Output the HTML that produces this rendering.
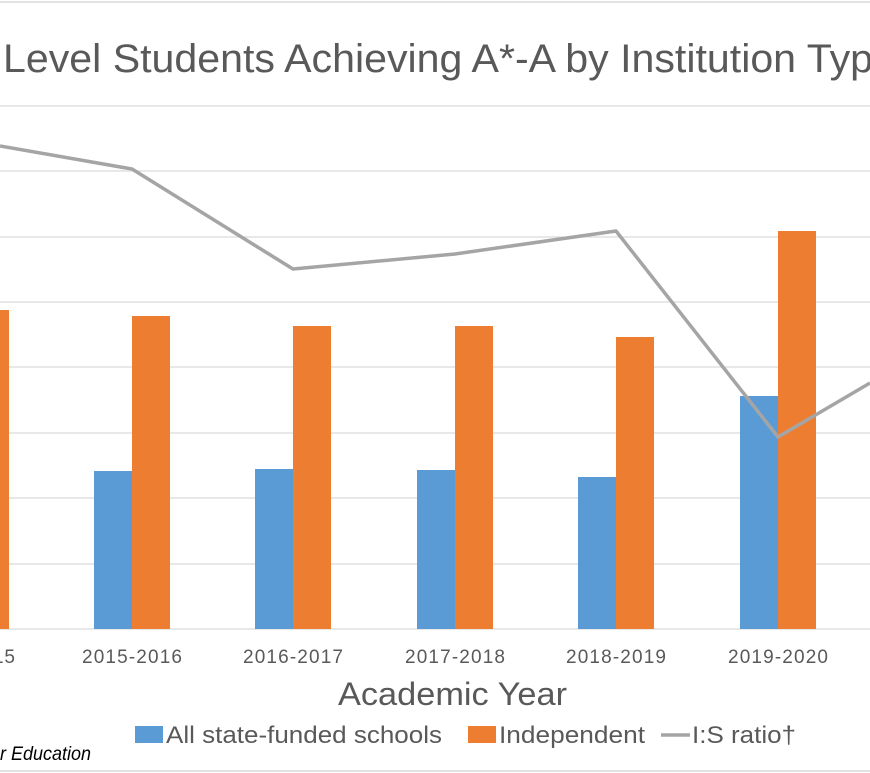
<!DOCTYPE html>
<html><head><meta charset="utf-8"><style>
html,body{margin:0;padding:0;background:#fff;}
svg{display:block;font-family:"Liberation Sans",sans-serif;}
</style></head><body>
<svg width="870" height="773" viewBox="0 0 870 773" xmlns="http://www.w3.org/2000/svg">
<rect width="870" height="773" fill="#fff"/>
<line x1="0" y1="2" x2="870" y2="2" stroke="#d9d9d9" stroke-width="1.5"/>
<text x="3" y="72" font-size="40" fill="#595959" textLength="870" lengthAdjust="spacingAndGlyphs">Level Students Achieving A*-A by Institution Typ</text>
<g stroke="#d9d9d9" stroke-width="1.3">
<line x1="0" y1="106" x2="870" y2="106"/>
<line x1="0" y1="171" x2="870" y2="171"/>
<line x1="0" y1="237" x2="870" y2="237"/>
<line x1="0" y1="302" x2="870" y2="302"/>
<line x1="0" y1="367" x2="870" y2="367"/>
<line x1="0" y1="433" x2="870" y2="433"/>
<line x1="0" y1="498" x2="870" y2="498"/>
<line x1="0" y1="564" x2="870" y2="564"/>
<line x1="0" y1="629" x2="870" y2="629"/>
</g>
<g fill="#5b9bd5">
<rect x="94" y="471" width="38" height="158"/>
<rect x="255" y="469" width="38" height="160"/>
<rect x="417" y="470" width="38" height="159"/>
<rect x="578" y="477" width="38" height="152"/>
<rect x="740" y="396" width="38" height="233"/>
</g>
<g fill="#ed7d31">
<rect x="0" y="310" width="9" height="319"/>
<rect x="132" y="316" width="38" height="313"/>
<rect x="293" y="326" width="38" height="303"/>
<rect x="455" y="326" width="38" height="303"/>
<rect x="616" y="337" width="38" height="292"/>
<rect x="778" y="231" width="38" height="398"/>
</g>
<polyline points="0,146 132,169 293,269 455,254 616,231 778,437 870,383" fill="none" stroke="#a5a5a5" stroke-width="3.5" stroke-linejoin="round"/>
<g font-size="19" fill="#595959" text-anchor="middle" lengthAdjust="spacingAndGlyphs">
<text x="4" y="663" textLength="22">15</text>
<text x="132" y="663" textLength="100">2015-2016</text>
<text x="293" y="663" textLength="100">2016-2017</text>
<text x="455" y="663" textLength="100">2017-2018</text>
<text x="616" y="663" textLength="100">2018-2019</text>
<text x="778" y="663" textLength="100">2019-2020</text>
</g>
<text x="338" y="705" font-size="32" fill="#595959" textLength="229" lengthAdjust="spacingAndGlyphs">Academic Year</text>
<rect x="135" y="726" width="28" height="17" fill="#5b9bd5"/>
<text x="166" y="743" font-size="24" fill="#595959" textLength="276" lengthAdjust="spacingAndGlyphs">All state-funded schools</text>
<rect x="468" y="726" width="28" height="17" fill="#ed7d31"/>
<text x="499" y="743" font-size="24" fill="#595959" textLength="146" lengthAdjust="spacingAndGlyphs">Independent</text>
<line x1="661" y1="735" x2="690" y2="735" stroke="#a5a5a5" stroke-width="3.5"/>
<text x="692" y="743" font-size="24" fill="#595959" textLength="104" lengthAdjust="spacingAndGlyphs">I:S ratio†</text>
<text x="0" y="760" font-size="19" font-style="italic" fill="#000" textLength="91" lengthAdjust="spacingAndGlyphs">r Education</text>
<line x1="0" y1="771" x2="870" y2="771" stroke="#d9d9d9" stroke-width="1.5"/>
</svg>
</body></html>
